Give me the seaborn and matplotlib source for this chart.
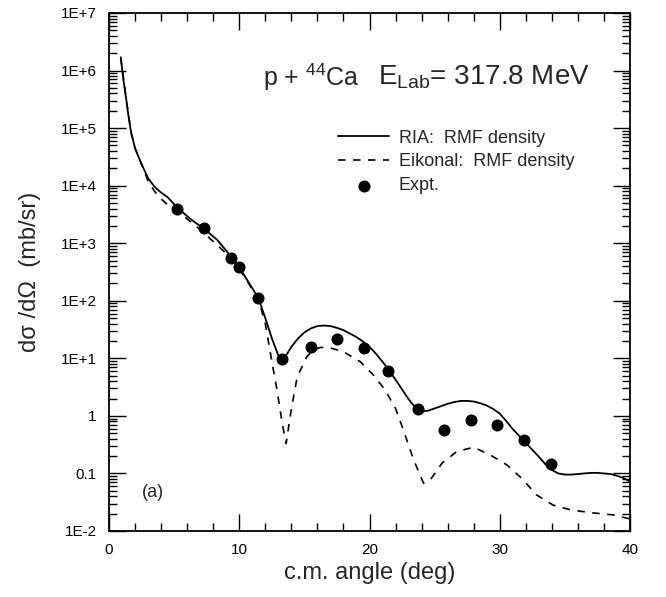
import numpy as np
import pandas as pd
import matplotlib
matplotlib.use("Agg")
import matplotlib.pyplot as plt
import matplotlib.ticker as mticker
import seaborn as sns

# ---- data (y stored as log10 of dσ/dΩ in mb/sr) ----
ria_x = [0.9, 1.1, 1.3, 1.5, 1.7, 2.0, 2.45, 3.0, 3.5, 4.0, 4.5, 5.2, 6.0, 6.5, 7.3,
         8.3, 9.0, 9.5, 10.0, 10.5, 11.0, 11.5, 12.0, 12.5, 13.0, 13.3, 13.6, 14.0,
         14.5, 15.0, 15.5, 16.0, 16.5, 17.0, 17.5, 18.0, 18.5, 19.0, 19.5, 20.0,
         20.5, 21.0, 21.5, 22.0, 22.5, 23.0, 23.5, 24.0, 24.5, 25.0, 25.5, 26.0,
         26.5, 27.0, 27.5, 28.0, 28.5, 29.0, 29.5, 30.0, 30.5, 31.0, 31.5, 32.0,
         32.5, 33.0, 33.5, 34.0, 34.5, 35.0, 35.5, 36.0, 36.5, 37.0, 37.5, 38.0,
         38.5, 39.0, 39.5, 40.0]
ria_logy = [6.23, 5.85, 5.54, 5.20, 4.92, 4.65, 4.40, 4.13, 3.98, 3.88, 3.80, 3.63,
            3.47, 3.38, 3.25, 3.06, 2.87, 2.73, 2.58, 2.40, 2.22, 2.03, 1.70, 1.35,
            1.05, 0.99, 1.05, 1.20, 1.34, 1.45, 1.52, 1.56, 1.57, 1.56, 1.53, 1.49,
            1.43, 1.37, 1.29, 1.20, 1.08, 0.94, 0.79, 0.63, 0.46, 0.29, 0.15, 0.08,
            0.09, 0.13, 0.17, 0.21, 0.24, 0.26, 0.26, 0.25, 0.22, 0.18, 0.12, 0.04,
            -0.09, -0.23, -0.35, -0.47, -0.59, -0.71, -0.84, -0.94, -1.00, -1.02,
            -1.02, -1.01, -1.00, -0.99, -0.99, -1.00, -1.01, -1.04, -1.08, -1.14]

eik_x = [0.9, 1.3, 1.7, 2.0, 2.5, 3.0, 3.5, 4.0, 4.5, 5.0, 5.8, 6.5, 7.3, 8.0, 9.0,
         9.5, 10.0, 10.5, 11.0, 11.5, 12.0, 12.5, 12.9, 13.3, 13.6, 13.95, 14.45,
         15.2, 15.7, 16.25, 17.0, 18.0, 19.3, 20.3, 21.2, 22.0, 22.6, 23.4, 24.15,
         24.67, 25.57, 26.7, 28.0, 29.27, 30.54, 31.8, 32.8, 34.1, 35.4, 36.9,
         38.7, 40.0]
eik_logy = [6.23, 5.54, 4.92, 4.65, 4.37, 4.08, 3.90, 3.77, 3.67, 3.58, 3.46, 3.33,
            3.18, 3.03, 2.82, 2.70, 2.55, 2.38, 2.20, 2.00, 1.60, 0.95, 0.45, -0.13,
            -0.48, 0.05, 0.68, 1.03, 1.15, 1.19, 1.18, 1.115, 0.94, 0.71, 0.45, 0.13,
            -0.245, -0.77, -1.17, -1.11, -0.82, -0.62, -0.545, -0.68, -0.85, -1.11,
            -1.37, -1.55, -1.63, -1.68, -1.72, -1.79]

expt_x = [5.2, 7.3, 9.35, 10.0, 11.47, 13.26, 15.5, 17.5, 19.6, 21.4, 23.7, 25.7,
          27.8, 29.8, 31.9, 33.9]
expt_logy = [3.595, 3.265, 2.75, 2.59, 2.05, 0.99, 1.19, 1.34, 1.185, 0.78, 0.12,
             -0.245, -0.07, -0.16, -0.42, -0.835]

ytick_vals = [1e-2, 1e-1, 1, 1e1, 1e2, 1e3, 1e4, 1e5, 1e6, 1e7]
ytick_labels = ["1E-2", "0.1", "1", "1E+1", "1E+2", "1E+3", "1E+4", "1E+5", "1E+6", "1E+7"]
xtick_vals = [0, 10, 20, 30, 40]

ria = pd.DataFrame({"angle": ria_x, "xs": np.power(10.0, ria_logy)})
eik = pd.DataFrame({"angle": eik_x, "xs": np.power(10.0, eik_logy)})
expt = pd.DataFrame({"angle": expt_x, "xs": np.power(10.0, expt_logy)})

# ---- style ----
sns.set_style("ticks")
plt.rcParams["font.family"] = ["Liberation Sans", "DejaVu Sans"]
plt.rcParams["mathtext.fontset"] = "custom"
plt.rcParams["mathtext.rm"] = "Liberation Sans"
plt.rcParams["mathtext.it"] = "Liberation Sans"
plt.rcParams["mathtext.default"] = "regular"

fig = plt.figure(figsize=(6.66, 5.97), dpi=100)
ax = fig.add_axes([109 / 666, 1 - 531 / 597, 521 / 666, 518 / 597])

sns.lineplot(data=ria, x="angle", y="xs", ax=ax, color="black", lw=1.3,
             estimator=None, sort=False, label="RIA:  RMF density")
sns.lineplot(data=eik, x="angle", y="xs", ax=ax, color="black", lw=1.2,
             estimator=None, sort=False, label="Eikonal:  RMF density")
ax.lines[1].set_dashes((4.5, 4.5))
sns.scatterplot(data=expt, x="angle", y="xs", ax=ax, color="black", s=75,
                edgecolor="black", linewidth=0, label="Expt.", zorder=5)

ax.set_yscale("log")
ax.set_ylim(1e-2, 1e7)
ax.set_xlim(0, 40)

ax.set_yticks(ytick_vals)
ax.set_yticklabels(ytick_labels)
ax.yaxis.set_minor_locator(mticker.LogLocator(base=10, subs=np.arange(2, 10), numticks=50))
ax.yaxis.set_minor_formatter(mticker.NullFormatter())
ax.set_xticks(xtick_vals)
ax.set_xticklabels([str(v) for v in xtick_vals])
ax.xaxis.set_minor_locator(mticker.MultipleLocator(2))

ax.tick_params(which="both", direction="in", top=True, right=True, width=1.0,
               colors="black")
ax.tick_params(which="major", length=12, labelsize=11, pad=9)
ax.tick_params(which="minor", length=6)

for sp in ax.spines.values():
    sp.set_linewidth(1.3)
    sp.set_color("black")

ax.set_xlabel("c.m. angle (deg)", fontsize=17, labelpad=3)
ax.set_ylabel("d\u03c3 /d\u03a9  (mb/sr)", fontsize=17, labelpad=14)

ax.text(0.296, 0.876, r"p + $^{44}$Ca", transform=ax.transAxes, fontsize=18,
        ha="left", va="center")
ax.text(0.516, 0.876, r"E$_{Lab}$= 317.8 MeV", transform=ax.transAxes, fontsize=20,
        ha="left", va="center")
ax.text(0.063, 0.075, "(a)", transform=ax.transAxes, fontsize=13, ha="left",
        va="center")

h, l = ax.get_legend_handles_labels()
ax.legend(h, l, loc="upper left", bbox_to_anchor=(0.44, 0.775), frameon=False,
          fontsize=13, handlelength=2.8, handletextpad=0.55, labelspacing=0.38,
          borderpad=0, borderaxespad=0)

fig.savefig("out.png", dpi=100, facecolor="white")
